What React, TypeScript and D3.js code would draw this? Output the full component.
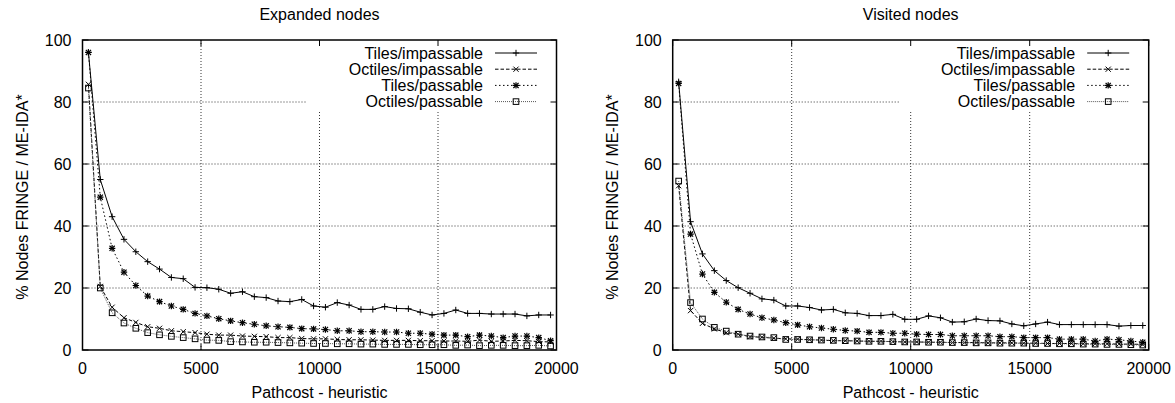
import * as d3 from "d3";

// x positions of the bins (pathcost - heuristic)
const pathcost = [
  250, 750, 1250, 1750, 2250, 2750, 3250, 3750, 4250, 4750,
  5250, 5750, 6250, 6750, 7250, 7750, 8250, 8750, 9250, 9750,
  10250, 10750, 11250, 11750, 12250, 12750, 13250, 13750, 14250, 14750,
  15250, 15750, 16250, 16750, 17250, 17750, 18250, 18750, 19250, 19750,
];

const seriesNames = ["Tiles/impassable", "Octiles/impassable", "Tiles/passable", "Octiles/passable"];

// Expanded nodes
const expTilesImp = [96, 55, 43, 35.7, 31.7, 28.5, 26.1, 23.4, 23, 20.2, 20.1, 19.6, 18.3, 18.8, 17.2, 16.9, 15.8, 15.6, 16.3, 14.2, 13.8, 15.3, 14.5, 13.1, 13.1, 14, 13.4, 13.3, 12.2, 11.3, 11.8, 12.9, 11.8, 11.8, 11.6, 11.6, 11.6, 11, 11.3, 11.3];
const expOctImp = [85.7, 20.5, 13.8, 10.4, 8.9, 7.5, 7, 6.2, 5.9, 5.6, 5.1, 4.8, 4.8, 4.5, 4.4, 4.3, 4, 4, 3.7, 3.6, 3.6, 3.4, 3.3, 3.3, 3.2, 3.1, 3.1, 3.1, 3.0, 3.0, 2.9, 2.9, 2.8, 3.2, 2.8, 2.9, 3.1, 3.0, 2.7, 2.6];
const expTilesPas = [96, 49.3, 32.8, 25.1, 20.8, 17.4, 15.6, 14.2, 13.1, 11.8, 11, 10.1, 9.4, 8.8, 8.3, 7.8, 7.5, 7.3, 6.9, 6.8, 6.6, 6.2, 6.2, 5.9, 5.9, 5.8, 5.8, 5.4, 5.4, 5.1, 4.8, 4.8, 4.3, 4.8, 4.5, 4, 4.5, 4.5, 4, 3];
const expOctPas = [84.5, 20, 12, 8.7, 7, 5.6, 4.9, 4.4, 4, 3.6, 3.2, 3.1, 2.7, 2.6, 2.5, 2.5, 2.4, 2.3, 2.2, 2.1, 2.1, 2, 2, 1.9, 1.9, 1.8, 1.8, 1.8, 1.7, 1.7, 1.7, 1.5, 1.6, 1.4, 1.5, 1.5, 1.4, 1.4, 1.5, 1.3];

// Visited nodes
const visTilesImp = [86.5, 41.4, 31, 25.6, 22.4, 20.1, 18.3, 16.5, 16.1, 14.2, 14.2, 13.7, 12.9, 13.1, 12, 11.8, 11.1, 11.1, 11.5, 9.9, 9.9, 11, 10.4, 9, 9.1, 10, 9.5, 9.4, 8.4, 7.8, 8.4, 9.0, 8.2, 8.2, 8.2, 8.2, 8.2, 7.7, 7.9, 7.9];
const visOctImp = [53, 12.7, 8.6, 6.8, 5.6, 5.1, 4.3, 4.1, 3.8, 3.6, 3.5, 3.3, 3.2, 3.0, 3.0, 2.9, 2.8, 2.8, 2.7, 2.6, 2.6, 2.5, 2.5, 2.4, 2.4, 2.4, 2.3, 2.3, 2.3, 2.2, 2.2, 2.1, 2.1, 2.1, 2.0, 2.0, 2.0, 1.9, 1.9, 1.8];
const visTilesPas = [86, 37.4, 24.5, 18.6, 15.4, 13.1, 11.6, 10.4, 9.7, 8.8, 8.1, 7.5, 7.1, 6.7, 6.3, 6.1, 5.7, 5.7, 5.4, 5.4, 5.1, 5, 5, 4.6, 4.6, 4.6, 4.6, 4.3, 4.3, 4, 4, 4, 3.5, 3.5, 3.5, 2.9, 3.5, 3.3, 2.9, 2.5];
const visOctPas = [54.5, 15.3, 10, 7.3, 6.1, 5.1, 4.5, 4.2, 4, 3.4, 3.4, 3.3, 3.2, 3.1, 3.0, 2.9, 2.8, 2.8, 2.7, 2.6, 2.6, 2.5, 2.5, 2.4, 2.4, 2.3, 2.3, 2.2, 2.2, 2.2, 2.1, 2.1, 2.0, 2.0, 1.9, 1.9, 1.8, 1.8, 1.7, 1.6];

const xTicks = [0, 5000, 10000, 15000, 20000];
const yTicks = [0, 20, 40, 60, 80, 100];

const FONT = "'Liberation Sans', Arial, Helvetica, sans-serif";
const dashes = ["none", "3.5,2", "1.5,2.5", "1,1"];
const strokes = ["#000", "#000", "#000", "#555"];

const Marker = ({ kind, x, y }) => {
  const s = 3.2;
  const plus = <path d={`M${x - s},${y}H${x + s}M${x},${y - s}V${y + s}`} />;
  const cross = <path d={`M${x - 2.6},${y - 2.6}L${x + 2.6},${y + 2.6}M${x - 2.6},${y + 2.6}L${x + 2.6},${y - 2.6}`} />;
  if (kind === 0) return <g stroke="#000" strokeWidth={1}>{plus}</g>;
  if (kind === 1) return <g stroke="#000" strokeWidth={1}>{cross}</g>;
  if (kind === 2)
    return (
      <g stroke="#000" strokeWidth={1.2}>
        {plus}
        {cross}
      </g>
    );
  return <rect x={x - 2.8} y={y - 2.8} width={5.6} height={5.6} fill="none" stroke="#000" strokeWidth={1} />;
};

const Panel = ({ title, left, right, series }) => {
  const top = 40;
  const bottom = 350;
  const x = d3.scaleLinear().domain([0, 20000]).range([left, right]);
  const y = d3.scaleLinear().domain([0, 100]).range([bottom, top]);
  const line = d3
    .line<number>()
    .x((_, i) => x(pathcost[i]))
    .y((d) => y(d));
  const keyLeft = right - 249.5;
  const keyBottom = top + 70;
  const midY = (top + bottom) / 2;

  return (
    <g fontFamily={FONT} fontSize={16}>
      <text x={(left + right) / 2} y={20} textAnchor="middle">{title}</text>
      {/* grid */}
      <g stroke="#000" strokeWidth={0.8} strokeDasharray="1,2">
        {yTicks.slice(1, -1).map((t) => (
          <line key={"gy" + t} x1={left} x2={y(t) < keyBottom ? keyLeft : right} y1={y(t)} y2={y(t)} />
        ))}
        {xTicks.slice(1, -1).map((t) => (
          <line key={"gx" + t} x1={x(t)} x2={x(t)} y1={bottom} y2={x(t) > keyLeft ? keyBottom : top} />
        ))}
      </g>
      {/* series */}
      {series.map((vals, si) => (
        <g key={si}>
          <path d={line(vals)} fill="none" stroke={strokes[si]} strokeWidth={1} strokeDasharray={dashes[si]} />
          {vals.map((v, i) => (
            <Marker key={i} kind={si} x={x(pathcost[i])} y={y(v)} />
          ))}
        </g>
      ))}
      {/* ticks */}
      <g stroke="#000" strokeWidth={1}>
        {xTicks.map((t) => (
          <g key={"tx" + t}>
            <line x1={x(t)} x2={x(t)} y1={bottom} y2={bottom - 6} />
            <line x1={x(t)} x2={x(t)} y1={top} y2={top + 6} />
          </g>
        ))}
        {yTicks.map((t) => (
          <g key={"ty" + t}>
            <line x1={left} x2={left + 6} y1={y(t)} y2={y(t)} />
            <line x1={right} x2={right - 6} y1={y(t)} y2={y(t)} />
          </g>
        ))}
      </g>
      <rect x={left} y={top} width={right - left} height={bottom - top} fill="none" stroke="#000" strokeWidth={1.5} />
      {/* tick labels */}
      {xTicks.map((t) => (
        <text key={"lx" + t} x={x(t)} y={374} textAnchor="middle">{t}</text>
      ))}
      {yTicks.map((t) => (
        <text key={"ly" + t} x={left - 11} y={y(t) + 5.7} textAnchor="end">{t}</text>
      ))}
      <text x={(left + right) / 2} y={398} textAnchor="middle">Pathcost - heuristic</text>
      <text transform={`translate(${left - 60.5},${midY + 2}) rotate(-90)`} textAnchor="middle" dy="0.35em">
        % Nodes FRINGE / ME-IDA*
      </text>
      {/* key */}
      {seriesNames.map((name, si) => {
        const ky = top + 13 + si * 16.2;
        return (
          <g key={"k" + si}>
            <text x={right - 73.5} y={ky + 5.7} textAnchor="end">{name}</text>
            <line x1={right - 61.5} x2={right - 19.5} y1={ky} y2={ky} stroke={strokes[si]} strokeWidth={1} strokeDasharray={dashes[si]} />
            <Marker kind={si} x={right - 40.5} y={ky} />
          </g>
        );
      })}
    </g>
  );
};

export default function App() {
  return (
    <svg width={1175} height={403} style={{ position: "absolute", left: 0, top: 0, background: "#fff" }}>
      <rect width={1175} height={403} fill="#fff" />
      <Panel
        title="Expanded nodes"
        left={82.5}
        right={556.5}
        series={[expTilesImp, expOctImp, expTilesPas, expOctPas]}
      />
      <Panel
        title="Visited nodes"
        left={672.7}
        right={1148.7}
        series={[visTilesImp, visOctImp, visTilesPas, visOctPas]}
      />
    </svg>
  );
}
